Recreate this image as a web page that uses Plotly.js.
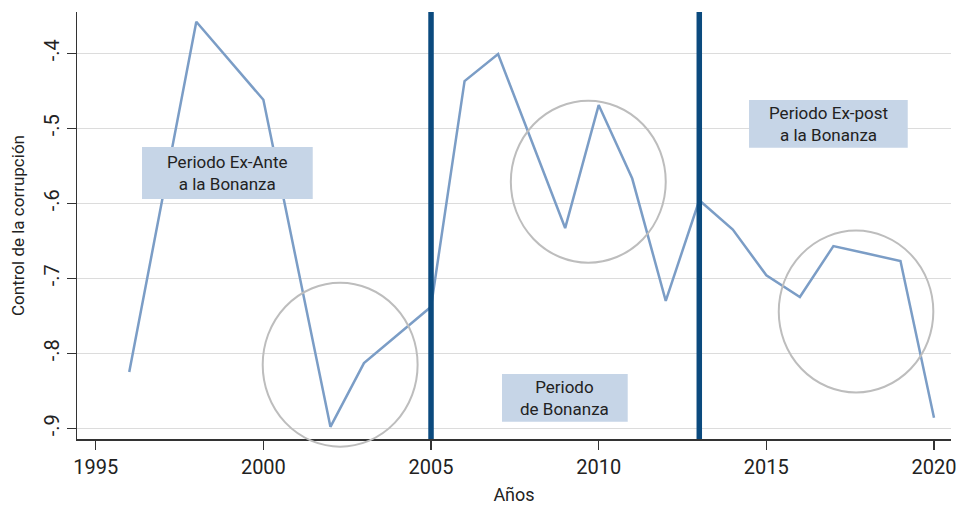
<!DOCTYPE html>
<html>
<head>
<meta charset="utf-8">
<script src="https://cdn.plot.ly/plotly-3.0.1.min.js"></script>
<style>
  html, body { margin: 0; padding: 0; background: #ffffff; }
  #chart { width: 957px; height: 505px; }
</style>
</head>
<body>
<div id="chart"></div>
<script>
// ---- data ----
const years = [1996, 1998, 2000, 2002, 2003, 2004, 2005, 2006, 2007, 2008, 2009,
               2010, 2011, 2012, 2013, 2014, 2015, 2016, 2017, 2018, 2019, 2020];
const controlCorrupcion = [-0.825, -0.358, -0.462, -0.898, -0.813, -0.776, -0.738,
                           -0.437, -0.401, -0.517, -0.633, -0.469, -0.567, -0.730,
                           -0.596, -0.635, -0.696, -0.725, -0.657, -0.667, -0.677, -0.886];
const periodBreaks = [2005, 2013];
const xTickVals = [1995, 2000, 2005, 2010, 2015, 2020];
const yTickVals = [-0.9, -0.8, -0.7, -0.6, -0.5, -0.4];
const yTickText = ['-.9', '-.8', '-.7', '-.6', '-.5', '-.4'];
const labelExAnte = ['Periodo Ex-Ante', 'a la Bonanza'];
const labelBonanza = ['Periodo', 'de Bonanza'];
const labelExPost = ['Periodo Ex-post', 'a la Bonanza'];
const xTitle = 'Años';
const yTitle = 'Control de la corrupción';

// ---- styling / layout ----
const FONT = 'Liberation Sans Narrow, Arial Narrow, Roboto, sans-serif';
const TEXT = '#222222';
const LINE = '#7b9dc6';
const VLINE = '#0b4a7e';
const BOX = '#c6d5e7';
const CIRC = '#bdbdbd';

const shapes = [];
const annotations = [];

// period separators
periodBreaks.forEach(function (yr) {
  shapes.push({type: 'line', xref: 'x', yref: 'paper', x0: yr, x1: yr, y0: 0, y1: 1,
               line: {color: VLINE, width: 5.5}, layer: 'above'});
});

// highlight circles
[[1999.98, 2004.60, -0.018, 0.366],
 [2007.38, 2012.00, 0.413, 0.792],
 [2015.37, 2019.98, 0.109, 0.488]].forEach(function (c) {
  shapes.push({type: 'circle', xref: 'x', yref: 'paper', x0: c[0], x1: c[1], y0: c[2], y1: c[3],
               line: {color: CIRC, width: 2}, fillcolor: 'rgba(0,0,0,0)', layer: 'above'});
});

// label boxes: [x0, x1, yTop, yBottom, lines]
[[1996.381, 2001.472, -0.5249, -0.5943, labelExAnte],
 [2007.117, 2010.866, -0.8276, -0.8912, labelBonanza],
 [2014.484, 2019.217, -0.4623, -0.5259, labelExPost]].forEach(function (b) {
  shapes.push({type: 'rect', xref: 'x', yref: 'y', x0: b[0], x1: b[1], y0: b[3], y1: b[2],
               line: {width: 0}, fillcolor: BOX, layer: 'above'});
  annotations.push({xref: 'x', yref: 'y', x: (b[0] + b[1]) / 2, y: (b[2] + b[3]) / 2,
                    text: b[4].join('<br>'), showarrow: false,
                    xanchor: 'center', yanchor: 'middle', align: 'center',
                    font: {family: FONT, size: 17, color: TEXT}});
});

const trace = {
  x: years, y: controlCorrupcion, type: 'scatter', mode: 'lines',
  line: {color: LINE, width: 2.5}, hoverinfo: 'skip', showlegend: false
};

const layout = {
  width: 957, height: 505,
  margin: {l: 77, r: 6, t: 12, b: 66, pad: 0},
  paper_bgcolor: '#ffffff', plot_bgcolor: '#ffffff',
  font: {family: FONT, color: TEXT},
  showlegend: false,
  xaxis: {
    range: [1994.442, 2020.507], tickvals: xTickVals, ticktext: xTickVals.map(String),
    showgrid: false, zeroline: false, showline: true, linecolor: '#333333', linewidth: 1.5,
    ticks: 'outside', ticklen: 9, tickwidth: 1.2, tickcolor: '#333333',
    ticklabeloverflow: 'allow',
    tickfont: {family: FONT, size: 20, color: TEXT},
    title: {text: xTitle, font: {family: FONT, size: 18, color: TEXT}, standoff: 14}
  },
  yaxis: {
    range: [-0.91427, -0.34493], tickvals: yTickVals, ticktext: yTickText, tickangle: -90,
    showgrid: true, gridcolor: '#dcdcdc', gridwidth: 1.2, zeroline: false,
    showline: true, linecolor: '#333333', linewidth: 1.5,
    ticks: 'outside', ticklen: 9, tickwidth: 1.2, tickcolor: '#333333',
    tickfont: {family: FONT, size: 20, color: TEXT},
    title: {text: yTitle, font: {family: FONT, size: 17, color: TEXT}, standoff: 10}
  },
  shapes: shapes,
  annotations: annotations
};

Plotly.newPlot('chart', [trace], layout, {staticPlot: true, displayModeBar: false});
</script>
</body>
</html>
